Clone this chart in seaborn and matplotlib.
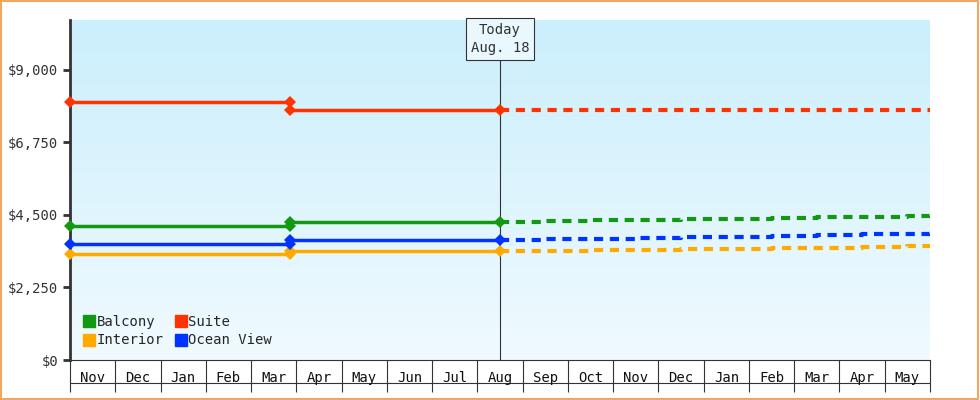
import numpy as np
import pandas as pd
import seaborn as sns
import matplotlib.pyplot as plt
from matplotlib.lines import Line2D
from matplotlib.patches import Rectangle

months = ["Nov", "Dec", "Jan", "Feb", "Mar", "Apr", "May", "Jun", "Jul", "Aug",
          "Sep", "Oct", "Nov", "Dec", "Jan", "Feb", "Mar", "Apr", "May"]
series = ["Balcony", "Suite", "Interior", "Ocean View"]
colors = {"Balcony": "#119911", "Suite": "#ff3300", "Interior": "#ffaa00", "Ocean View": "#0033ff"}

# price history: start, price change date, today (x in month units)
hist_x = [0, 4.85, 9.5]
first_price = {"Balcony": 4160, "Suite": 8010, "Interior": 3290, "Ocean View": 3600}
second_price = {"Balcony": 4290, "Suite": 7765, "Interior": 3385, "Ocean View": 3725}

fc_x = [9.5, 10.5, 11.5, 12.5, 13.5, 14.5, 15.5, 16.5, 17.5, 18.5, 19]
forecast = {
    "Balcony": [4290, 4310, 4330, 4345, 4365, 4385, 4405, 4425, 4445, 4470, 4490],
    "Suite": [7765] * 11,
    "Interior": [3385, 3395, 3410, 3425, 3440, 3455, 3470, 3490, 3505, 3525, 3540],
    "Ocean View": [3725, 3745, 3765, 3785, 3805, 3825, 3850, 3870, 3895, 3920, 3940],
}
yticks = [0, 2250, 4500, 6750, 9000]

sns.set_style("white")
plt.rcParams['font.family'] = ['DejaVu Sans Mono']
fig = plt.figure(figsize=(9.8, 4.0), dpi=100)
ax = fig.add_axes([70 / 980, 40 / 400, 860 / 980, 340 / 400])
ymax = 10550
ax.set_xlim(0, 19)
ax.set_ylim(0, ymax)

# gradient background
grad = np.linspace(1, 0, 100).reshape(-1, 1)
ax.imshow(grad, extent=[0, 19, 0, ymax], aspect="auto", zorder=0,
          cmap=plt.matplotlib.colors.LinearSegmentedColormap.from_list("bg", ["#f0faff", "#cbeffc"]))

for s in series:
    c = colors[s]
    d1 = pd.DataFrame({"x": hist_x[:2], "y": [first_price[s]] * 2})
    d2 = pd.DataFrame({"x": hist_x[1:], "y": [second_price[s]] * 2})
    for d in (d1, d2):
        sns.lineplot(data=d, x="x", y="y", color=c, lw=2.5, marker="D", markersize=6,
                     markeredgewidth=0, ax=ax, zorder=3, clip_on=False)
    d3 = pd.DataFrame({"x": fc_x, "y": forecast[s]})
    sns.lineplot(data=d3, x="x", y="y", color=c, lw=3, ax=ax, zorder=3,
                 drawstyle="steps-post", dashes=(2.2, 1.6))

# today marker
ax.axvline(9.5, color="#333333", lw=0.8, zorder=2, ymax=9400 / ymax)
ax.text(9.5, 9450, "Today\nAug. 18", ha="center", va="bottom", fontsize=10, color="#333333",
        linespacing=1.4, bbox=dict(boxstyle="square,pad=0.35", fc="#e8f8fe", ec="#333333", lw=0.8),
        zorder=4)

ax.set_yticks(yticks)
ax.set_yticklabels(["${:,}".format(v) for v in yticks], fontsize=10, color="#333333")
ax.tick_params(axis="y", left=True, length=5, width=2, color="#333333")
ax.set_xticks(np.arange(0, 20))
ax.set_xticklabels([])
ax.tick_params(axis="x", bottom=True, length=23, width=0.8, color="#333333", direction="out")
for i, m in enumerate(months):
    ax.text(i + 0.5, -0.032, m, transform=ax.get_xaxis_transform(), ha="center", va="top",
            fontsize=10, color="#111111")
ax.add_line(Line2D([0, 1], [-23 / 340, -23 / 340], transform=ax.transAxes, color="#333333",
                   lw=0.8, clip_on=False))
ax.set_xlabel("")
ax.set_ylabel("")
for sp in ["top", "right"]:
    ax.spines[sp].set_visible(False)
ax.spines["left"].set_linewidth(2)
ax.spines["left"].set_color("#333333")
ax.spines["bottom"].set_linewidth(0.8)
ax.spines["bottom"].set_color("#333333")

order = ["Balcony", "Interior", "Suite", "Ocean View"]
handles = [Line2D([], [], marker="s", ls="", color=colors[s], markersize=9) for s in order]
ax.legend(handles, order, ncol=2, loc="lower left", bbox_to_anchor=(0.0, 0.0), frameon=False,
          fontsize=10, handletextpad=0.0, columnspacing=0.8, labelspacing=0.3, handlelength=1)

fig.add_artist(Rectangle((0.001, 0.002), 0.997, 0.995, transform=fig.transFigure, fill=False,
                         ec="#f0a860", lw=1.5))
fig.savefig("out.png")
